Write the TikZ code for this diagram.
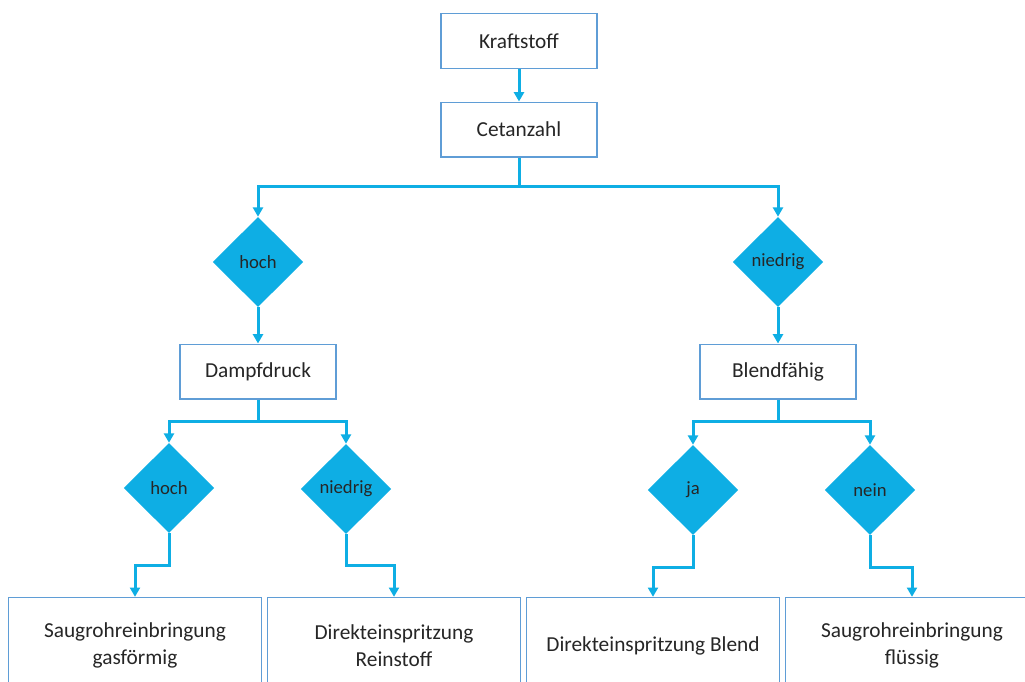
\documentclass[tikz,border=0pt]{standalone}
\usepackage{fontspec}
\setmainfont{Carlito}
\usetikzlibrary{shapes.geometric,arrows.meta}
\definecolor{boxline}{RGB}{95,157,214}
\definecolor{flow}{RGB}{14,174,228}
\definecolor{txt}{RGB}{38,38,38}
\tikzset{
  stepbox/.style={draw=boxline, line width=1pt, fill=white, text=txt, align=center,
    inner sep=0pt, font=\fontsize{16}{20.5}\selectfont},
  midbox/.style={stepbox, minimum width=117pt, minimum height=41pt},
  endbox/.style={stepbox, minimum width=189.5pt, minimum height=72pt},
  choice/.style={diamond, fill=flow, draw=none, inner sep=0pt, aspect=1,
    minimum width=68pt, minimum height=67.5pt, text=txt, font=\fontsize{14}{16}\selectfont},
  conn/.style={draw=flow, line width=2.25pt},
  arr/.style={conn, -{Triangle[length=7pt,width=7.5pt]}},
}
\begin{document}
\begin{tikzpicture}[x=0.75pt, y=-0.75pt]
\useasboundingbox (0,0) rectangle (1025,682);
\clip (0,0) rectangle (1025,682);

% top chain
\node[midbox] (kraft) at (519,41) {Kraftstoff};
\node[midbox] (cetan) at (519,129.5) {Cetanzahl};

% first decision level
\node[choice] (hoch1) at (258,262) {hoch};
\node[choice] (nied1) at (778,262) {niedrig};
\node[midbox] (dampf) at (258,371.5) {Dampfdruck};
\node[midbox] (blend) at (778,371.5) {Blendfähig};

% second decision level
\node[choice] (hoch2) at (169,488) {hoch};
\node[choice] (nied2) at (346,489) {niedrig};
\node[choice] (ja)    at (693,490) {ja};
\node[choice] (nein)  at (870,490) {nein};

% results
\node[endbox] (r1) at (135,645.5) {Saugrohreinbringung\\gasförmig};
\node[endbox] (r2) at (394,645.5) {Direkteinspritzung\\Reinstoff};
\node[endbox] (r3) at (653,645.5) {Direkteinspritzung Blend};
\node[endbox] (r4) at (912,645.5) {Saugrohreinbringung\\flüssig};

% branching points
\coordinate (s0) at (519,186);
\coordinate (s1) at (258,421);
\coordinate (s2) at (778,421);
\coordinate (k1) at (169,565);
\coordinate (k2) at (346,565);
\coordinate (k3) at (693,567);
\coordinate (k4) at (870,567);

% connectors
\draw[arr] (kraft) -- (cetan);
\draw[conn] (cetan) -- (s0);
\draw[arr] (s0) -| (hoch1);
\draw[arr] (s0) -| (nied1);
\draw[arr] (hoch1) -- (dampf);
\draw[arr] (nied1) -- (blend);
\draw[conn] (dampf) -- (s1);
\draw[arr] (s1) -| (hoch2);
\draw[arr] (s1) -| (nied2);
\draw[conn] (blend) -- (s2);
\draw[arr] (s2) -| (ja);
\draw[arr] (s2) -| (nein);
\draw[arr] (hoch2) -- (k1) -| (r1);
\draw[arr] (nied2) -- (k2) -| (r2);
\draw[arr] (ja) -- (k3) -| (r3);
\draw[arr] (nein) -- (k4) -| (r4);
\end{tikzpicture}
\end{document}
